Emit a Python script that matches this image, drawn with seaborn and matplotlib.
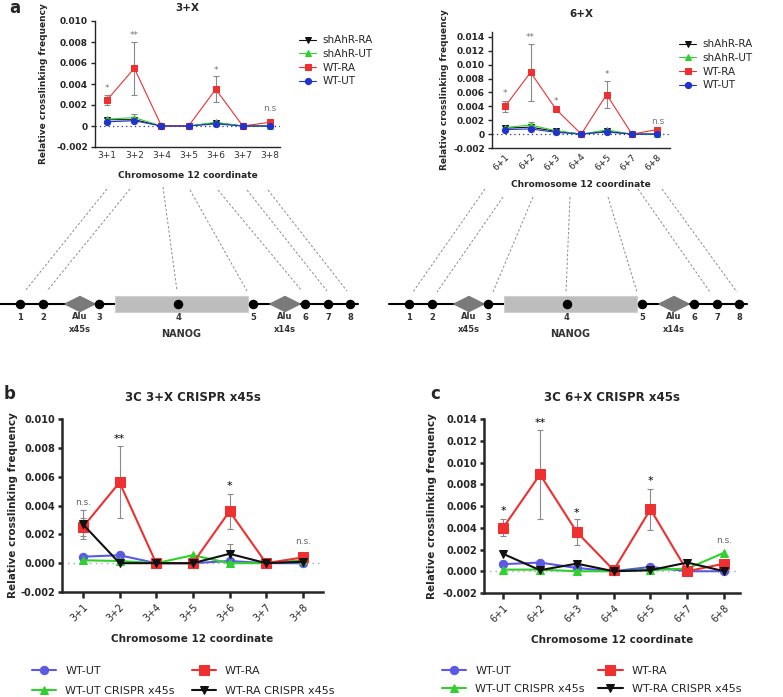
"""3C crosslinking frequencies around NANOG (panels a-c)."""

import matplotlib
matplotlib.use("Agg")
import matplotlib.pyplot as plt
from matplotlib.patches import Polygon, Rectangle
import numpy as np
import pandas as pd
import seaborn as sns

W, H = 783, 697

# ---- panel a, 3+X ----
a3_labels = ["3+1", "3+2", "3+4", "3+5", "3+6", "3+7", "3+8"]
a3_wt_ra = [0.0025, 0.0055, 0.0, 0.0, 0.0035, 0.0, 0.00035]
a3_wt_ra_err = [0.0005, 0.0025, 0.0, 0.0, 0.00125, 0.0, 0.0]
a3_wt_ut = [0.0004, 0.0005, 0.0, 0.0, 0.0002, 0.0, 0.0]
a3_sh_ut = [0.00065, 0.0008, 0.0, 0.0, 0.00035, 0.0, 0.0]
a3_sh_ut_err = [0.0, 0.0003, 0.0, 0.0, 0.0, 0.0, 0.0]
a3_sh_ra = [0.0006, 0.0006, 0.0, 0.0, 0.0003, 0.0, 0.0]
a3_marks = ["*", "**", "", "", "*", "", "n.s"]
a3_mark_y = [0.0031, 0.0082, 0, 0, 0.0049, 0, 0.0012]

# ---- panel a, 6+X ----
a6_labels = ["6+1", "6+2", "6+3", "6+4", "6+5", "6+7", "6+8"]
a6_wt_ra = [0.004, 0.0089, 0.0036, 0.0, 0.0057, 0.0, 0.00065]
a6_wt_ra_err = [0.0008, 0.0041, 0.0, 0.0, 0.0019, 0.0, 0.0]
a6_wt_ut = [0.00065, 0.00075, 0.00025, 0.0, 0.0003, 0.0, 0.0]
a6_sh_ut = [0.00095, 0.0013, 0.0005, 0.0, 0.0006, 0.0, 0.0]
a6_sh_ut_err = [0.0, 0.0004, 0.0, 0.0, 0.0, 0.0, 0.0]
a6_sh_ra = [0.00085, 0.001, 0.0004, 0.0, 0.0004, 0.0, 0.0]
a6_marks = ["*", "**", "*", "", "*", "", "n.s"]
a6_mark_y = [0.0052, 0.0133, 0.0040, 0, 0.0079, 0, 0.0012]

# ---- panel b, 3C 3+X CRISPR x45s ----
b_labels = ["3+1", "3+2", "3+4", "3+5", "3+6", "3+7", "3+8"]
b_wt_ut = [0.00045, 0.00055, 0.0, 0.0, 0.00015, 0.0, 0.0]
b_wt_ra = [0.0025, 0.0056, 0.0, 0.0, 0.0036, 0.0, 0.0004]
b_wt_ra_err = [0.0006, 0.0025, 0.0, 0.0, 0.0012, 0.0, 0.0]
b_cr_ut = [0.0002, 0.00015, 0.0, 0.00055, 0.0, 0.0, 0.0002]
b_cr_ra = [0.0027, 0.0, 0.0, 0.0, 0.00065, 0.0, 0.0001]
b_cr_ra_err = [0.001, 0.0, 0.0, 0.0, 0.00065, 0.0, 0.0]
b_marks = ["n.s.", "**", "", "", "*", "", "n.s."]
b_mark_y = [0.0039, 0.0083, 0, 0, 0.0050, 0, 0.0012]

# ---- panel c, 3C 6+X CRISPR x45s ----
c_labels = ["6+1", "6+2", "6+3", "6+4", "6+5", "6+7", "6+8"]
c_wt_ut = [0.00065, 0.0008, 0.0003, 0.0, 0.0004, 0.0, 0.0]
c_wt_ra = [0.004, 0.0089, 0.0036, 0.0001, 0.0057, 0.0, 0.0007]
c_wt_ra_err = [0.0008, 0.0041, 0.0012, 0.0, 0.0019, 0.0, 0.0]
c_cr_ut = [0.00015, 0.00015, 0.0, 0.0, 0.0001, 0.00025, 0.0017]
c_cr_ra = [0.0016, 0.0001, 0.0007, 0.0, 0.0001, 0.0008, 0.0]
c_marks = ["*", "**", "*", "", "*", "", "n.s."]
c_mark_y = [0.0051, 0.0132, 0.0049, 0, 0.0078, 0, 0.0024]

# ---- NANOG locus schematic (pixel x of each site) ----
site_names = ["1", "2", "3", "4", "5", "6", "7", "8"]
site_x = [20, 43, 99, 178, 253, 305, 328, 350]
alu_x = [80, 285]
alu_names = ["Alu\nx45s", "Alu\nx14s"]

RED, GREEN, BLACK = "#EE3030", "#2ED12E", "#111111"
BLUE_A, BLUE_B = "#2233CC", "#5A5AE6"

sns.set_style("ticks")
plt.rcParams["font.family"] = ["DejaVu Sans"]

fig = plt.figure(figsize=(W / 100, H / 100), dpi=100)


def px_axes(x0, y0, x1, y1):
    return fig.add_axes([x0 / W, 1 - y1 / H, (x1 - x0) / W, (y1 - y0) / H])


def draw_series(ax, values, color, marker, label, ms, lw, z):
    df = pd.DataFrame({"pos": np.arange(len(values)), "value": values})
    sns.lineplot(data=df, x="pos", y="value", color=color, marker=marker,
                 markersize=ms, markeredgecolor=color, linewidth=lw,
                 label=label, legend=False, ax=ax, zorder=z)


def draw_err(ax, values, errs, lw=0.8, cap=2):
    idx = [i for i, e in enumerate(errs) if e > 0]
    ax.errorbar(idx, [values[i] for i in idx], yerr=[errs[i] for i in idx],
                fmt="none", ecolor="#8a8a8a", elinewidth=lw, capsize=cap,
                capthick=lw, zorder=1)


def style_axes(ax, labels, ylim, yticks, yticklabels, xlim, rot, fs, spine_w,
               tick_len):
    ax.set_xlim(*xlim)
    ax.set_ylim(*ylim)
    ax.set_yticks(yticks)
    ax.set_yticklabels(yticklabels, fontsize=fs, fontweight="bold")
    ax.set_xticks(range(len(labels)))
    if rot:
        ax.set_xticklabels(labels, rotation=45, ha="right",
                           rotation_mode="anchor", fontsize=fs)
    else:
        ax.set_xticklabels(labels, fontsize=fs, color="#333333")
    ax.set_xlabel("")
    ax.set_ylabel("")
    sns.despine(ax=ax)
    for s in ("left", "bottom"):
        ax.spines[s].set_linewidth(spine_w)
    ax.tick_params(axis="y", width=spine_w, length=3, pad=2)
    ax.tick_params(axis="x", width=spine_w, length=tick_len, pad=3)
    ax.set_facecolor("none")


# overlay for letters, connectors and the locus drawing
ov = fig.add_axes([0, 0, 1, 1])
ov.set_xlim(0, W)
ov.set_ylim(H, 0)
ov.axis("off")

# ---------------- panel a, left ----------------
ax = px_axes(95, 21, 280, 147)
ax.axhline(0, color="#223388", lw=0.9, ls=(0, (1, 2.5)), zorder=0)
draw_err(ax, a3_wt_ra, a3_wt_ra_err)
draw_err(ax, a3_sh_ut, a3_sh_ut_err)
draw_series(ax, a3_sh_ra, BLACK, "v", "shAhR-RA", 4, 0.8, 3)
draw_series(ax, a3_sh_ut, GREEN, "^", "shAhR-UT", 4, 0.8, 3)
draw_series(ax, a3_wt_ra, RED, "s", "WT-RA", 5, 0.8, 4)
draw_series(ax, a3_wt_ut, BLUE_A, "o", "WT-UT", 4.5, 0.8, 5)
style_axes(ax, a3_labels, (-0.002, 0.010), np.arange(-0.002, 0.0101, 0.002),
           ["-0.002", "0", "0.002", "0.004", "0.006", "0.008", "0.010"],
           (-0.45, 6.37), False, 6.5, 1.0, 0)
for i, (m, y) in enumerate(zip(a3_marks, a3_mark_y)):
    if m:
        ax.text(i, y, m, ha="center", va="bottom", fontsize=6.5, color="#777777")
ax.set_title("3+X", fontsize=7.5, fontweight="bold", pad=7)
ax.set_ylabel("Relative crosslinking frequency", fontsize=6.5,
              fontweight="bold", labelpad=6)
ax.set_xlabel("Chromosome 12 coordinate", fontsize=6.5, fontweight="bold",
              labelpad=8)
ax.legend(loc="upper left", bbox_to_anchor=(290 / W, 1 - 26 / H),
          bbox_transform=fig.transFigure, frameon=False, fontsize=7.5,
          handlelength=1.6, handletextpad=0.6, labelspacing=0.35)

# ---------------- panel a, right ----------------
ax = px_axes(492, 32, 670, 148)
ax.axhline(0, color="#223388", lw=0.9, ls=(0, (1, 2.5)), zorder=0)
draw_err(ax, a6_wt_ra, a6_wt_ra_err)
draw_err(ax, a6_sh_ut, a6_sh_ut_err)
draw_series(ax, a6_sh_ra, BLACK, "v", "shAhR-RA", 4, 0.8, 3)
draw_series(ax, a6_sh_ut, GREEN, "^", "shAhR-UT", 4, 0.8, 3)
draw_series(ax, a6_wt_ra, RED, "s", "WT-RA", 5, 0.8, 4)
draw_series(ax, a6_wt_ut, BLUE_A, "o", "WT-UT", 4.5, 0.8, 5)
style_axes(ax, a6_labels, (-0.002, 0.0147), np.arange(-0.002, 0.0141, 0.002),
           ["-0.002", "0", "0.002", "0.004", "0.006", "0.008", "0.010",
            "0.012", "0.014"],
           (-0.52, 6.5), True, 6.5, 1.0, 0)
for i, (m, y) in enumerate(zip(a6_marks, a6_mark_y)):
    if m:
        ax.text(i, y, m, ha="center", va="bottom", fontsize=6.5, color="#777777")
ax.set_title("6+X", fontsize=7.5, fontweight="bold", pad=11)
ax.set_ylabel("Relative crosslinking frequency", fontsize=6.5,
              fontweight="bold", labelpad=3)
ax.set_xlabel("Chromosome 12 coordinate", fontsize=6.5, fontweight="bold",
              labelpad=6)
ax.legend(loc="upper left", bbox_to_anchor=(670 / W, 1 - 30 / H),
          bbox_transform=fig.transFigure, frameon=False, fontsize=7.5,
          handlelength=1.6, handletextpad=0.6, labelspacing=0.35)

# ---------------- panel b ----------------
ax = px_axes(62, 419, 323, 592)
ax.axhline(0, color="#aaaaaa", lw=1.0, ls=(0, (1, 3)), zorder=0)
draw_err(ax, b_wt_ra, b_wt_ra_err)
draw_err(ax, b_cr_ra, b_cr_ra_err)
draw_series(ax, b_wt_ut, BLUE_B, "o", "WT-UT", 6, 1.5, 3)
draw_series(ax, b_cr_ut, GREEN, "^", "WT-UT CRISPR x45s", 6, 1.5, 3)
draw_series(ax, b_wt_ra, RED, "s", "WT-RA", 6.5, 1.5, 4)
draw_series(ax, b_cr_ra, BLACK, "v", "WT-RA CRISPR x45s", 6, 1.5, 5)
style_axes(ax, b_labels, (-0.002, 0.010), np.arange(-0.002, 0.0101, 0.002),
           ["-0.002", "0.000", "0.002", "0.004", "0.006", "0.008", "0.010"],
           (-0.57, 6.55), True, 7, 1.8, 4)
for i, (m, y) in enumerate(zip(b_marks, b_mark_y)):
    if m:
        ax.text(i, y, m, ha="center", va="bottom",
                fontsize=6.5 if m.startswith("n") else 8,
                color="#666666" if m.startswith("n") else "black")
ax.set_title("3C 3+X CRISPR x45s", fontsize=8.5, fontweight="bold", pad=13)
ax.set_ylabel("Relative crosslinking frequency", fontsize=7.5,
              fontweight="bold", labelpad=2)
ax.set_xlabel("Chromosome 12 coordinate", fontsize=7.5, fontweight="bold",
              labelpad=8)
ax.legend(loc="upper left", bbox_to_anchor=(22 / W, 1 - 656 / H),
          bbox_transform=fig.transFigure, frameon=False, fontsize=8, ncol=2,
          handlelength=2.2, handletextpad=0.8, columnspacing=1.5,
          labelspacing=0.9)

# ---------------- panel c ----------------
ax = px_axes(484, 419, 740, 593)
ax.axhline(0, color="#aaaaaa", lw=1.0, ls=(0, (1, 3)), zorder=0)
draw_err(ax, c_wt_ra, c_wt_ra_err)
draw_series(ax, c_wt_ut, BLUE_B, "o", "WT-UT", 6, 1.5, 3)
draw_series(ax, c_cr_ut, GREEN, "^", "WT-UT CRISPR x45s", 6, 1.5, 3)
draw_series(ax, c_wt_ra, RED, "s", "WT-RA", 6.5, 1.5, 4)
draw_series(ax, c_cr_ra, BLACK, "v", "WT-RA CRISPR x45s", 6, 1.5, 5)
style_axes(ax, c_labels, (-0.002, 0.014), np.arange(-0.002, 0.0141, 0.002),
           ["-0.002", "0.000", "0.002", "0.004", "0.006", "0.008", "0.010",
            "0.012", "0.014"],
           (-0.52, 6.43), True, 7, 1.8, 4)
for i, (m, y) in enumerate(zip(c_marks, c_mark_y)):
    if m:
        ax.text(i, y, m, ha="center", va="bottom",
                fontsize=6.5 if m.startswith("n") else 8,
                color="#666666" if m.startswith("n") else "black")
ax.set_title("3C 6+X CRISPR x45s", fontsize=8.5, fontweight="bold", pad=13)
ax.set_ylabel("Relative crosslinking frequency", fontsize=7.5,
              fontweight="bold", labelpad=4)
ax.set_xlabel("Chromosome 12 coordinate", fontsize=7.5, fontweight="bold",
              labelpad=8)
ax.legend(loc="upper left", bbox_to_anchor=(432 / W, 1 - 656 / H),
          bbox_transform=fig.transFigure, frameon=False, fontsize=8, ncol=2,
          handlelength=2.2, handletextpad=0.8, columnspacing=1.2,
          labelspacing=0.7)

# ---------------- panel letters ----------------
ov.text(9, 8, "a", fontsize=12, fontweight="bold", va="center")
ov.text(4, 394, "b", fontsize=12, fontweight="bold", va="center")
ov.text(430, 394, "c", fontsize=12, fontweight="bold", va="center")

# ---------------- locus schematic ----------------
LINE_Y = 304
for off in (0, 389):
    ov.plot([off + 0, off + 358], [LINE_Y, LINE_Y], color="black", lw=1.5,
            zorder=1)
    ov.add_patch(Rectangle((off + 115, LINE_Y - 8), 133, 16,
                           facecolor="#bdbdbd", edgecolor="#d0d0d0", lw=0.8,
                           zorder=2))
    for ax_c in alu_x:
        cx = off + ax_c
        ov.add_patch(Polygon([(cx - 15, LINE_Y), (cx, LINE_Y - 7.5),
                              (cx + 15, LINE_Y), (cx, LINE_Y + 7.5)],
                             closed=True, facecolor="#7a7a7a",
                             edgecolor="#7a7a7a", zorder=2))
    ov.scatter([off + x for x in site_x], [LINE_Y] * len(site_x), s=34,
               color="black", zorder=3)
    for x, name in zip(site_x, site_names):
        ov.text(off + x, 317, name, ha="center", va="center", fontsize=6,
                fontweight="bold", color="#333333")
    for x, name in zip(alu_x, alu_names):
        ov.text(off + x, 323, name, ha="center", va="center", fontsize=6,
                fontweight="bold", color="#333333", linespacing=1.5)
    ov.text(off + 181, 334, "NANOG", ha="center", va="center", fontsize=7,
            fontweight="bold", color="#333333")

# dashed connectors from chart ticks to locus sites
conn_top_l = [(107, 189), (130, 189), (163, 187), (190, 190), (218, 190),
              (247, 190), (268, 190)]
conn_bot_l = [(25, 291), (47, 291), (177, 291), (247, 291), (302, 291),
              (327, 291), (347, 291)]
conn_top_r = [(485, 189), (503, 197), (533, 197), (570, 197), (608, 197),
              (638, 189), (662, 189)]
conn_bot_r = [(413, 292), (437, 292), (493, 292), (566, 292), (637, 292),
              (710, 292), (737, 292)]
for tops, bots in ((conn_top_l, conn_bot_l), (conn_top_r, conn_bot_r)):
    for (x0, y0), (x1, y1) in zip(tops, bots):
        ov.plot([x0, x1], [y0, y1], color="#8c8c8c", lw=0.7,
                ls=(0, (2.5, 2)), zorder=1)

fig.savefig("out.png", dpi=100)
